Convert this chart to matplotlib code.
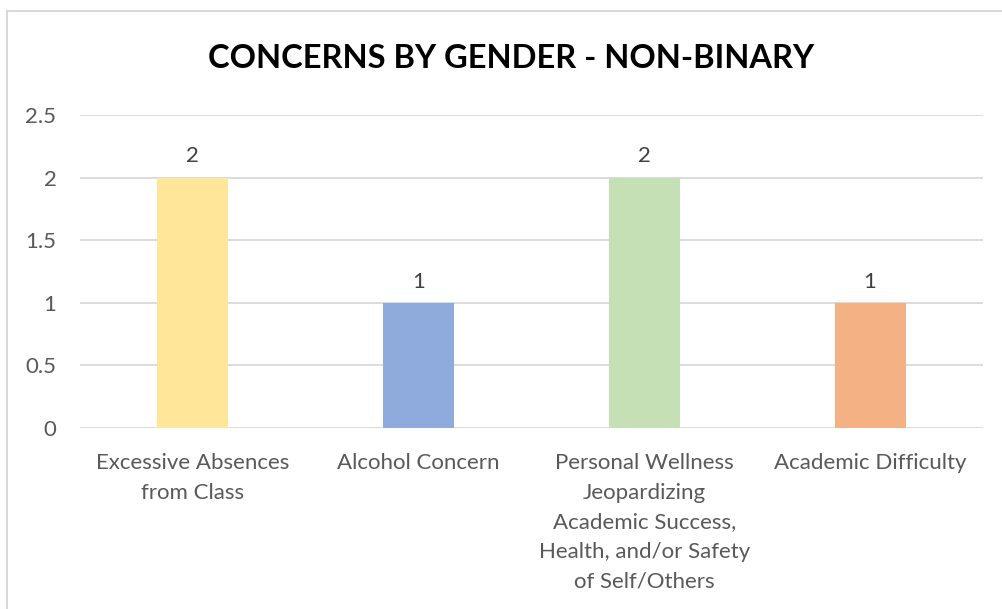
import matplotlib.pyplot as plt
import matplotlib.patches as patches

categories = [
    "Excessive Absences\nfrom Class",
    "Alcohol Concern",
    "Personal Wellness\nJeopardizing\nAcademic Success,\nHealth, and/or Safety\nof Self/Others",
    "Academic Difficulty",
]
counts = [2, 1, 2, 1]
colors = ["#FFE699", "#8FAADC", "#C5E0B4", "#F4B183"]
yticks = [0, 0.5, 1, 1.5, 2, 2.5]
ytick_labels = ["0", "0.5", "1", "1.5", "2", "2.5"]

plt.rcParams['font.family'] = ['Lato', 'DejaVu Sans']

W, H = 1003, 609
fig = plt.figure(figsize=(W / 100, H / 100), dpi=100)
fig.patches.append(patches.Rectangle((7 / W, -0.1), 1.2, 1 - 11 / H + 0.1,
                                     transform=fig.transFigure, fill=False,
                                     edgecolor="#D9D9D9", linewidth=1.5))

ax = fig.add_axes([80 / W, 1 - 428 / H, (983 - 80) / W, (428 - 115) / H])
x = range(len(categories))
ax.bar(x, counts, width=0.315, color=colors, zorder=2)
for xi, v in zip(x, counts):
    ax.text(xi, v + 0.09, str(v), ha='center', va='bottom', fontsize=16, color="#404040")

ax.set_xlim(-0.5, len(categories) - 0.5)
ax.set_ylim(0, 2.5)
ax.set_yticks(yticks)
ax.set_yticklabels(ytick_labels)
ax.yaxis.grid(True, color="#D9D9D9", linewidth=1.3, zorder=0)
ax.set_xticks(list(x))
ax.set_xticklabels(categories, linespacing=1.6)
ax.tick_params(axis='both', length=0, labelsize=16, labelcolor="#595959")
ax.tick_params(axis='x', pad=18)
ax.tick_params(axis='y', pad=17)
for s in ax.spines.values():
    s.set_visible(False)

fig.text(511 / W, 1 - 58 / H, "CONCERNS BY GENDER - NON-BINARY", ha='center', va='center',
         fontsize=23.5, fontweight='bold', color="#000000")

fig.savefig("out.png", dpi=100)
